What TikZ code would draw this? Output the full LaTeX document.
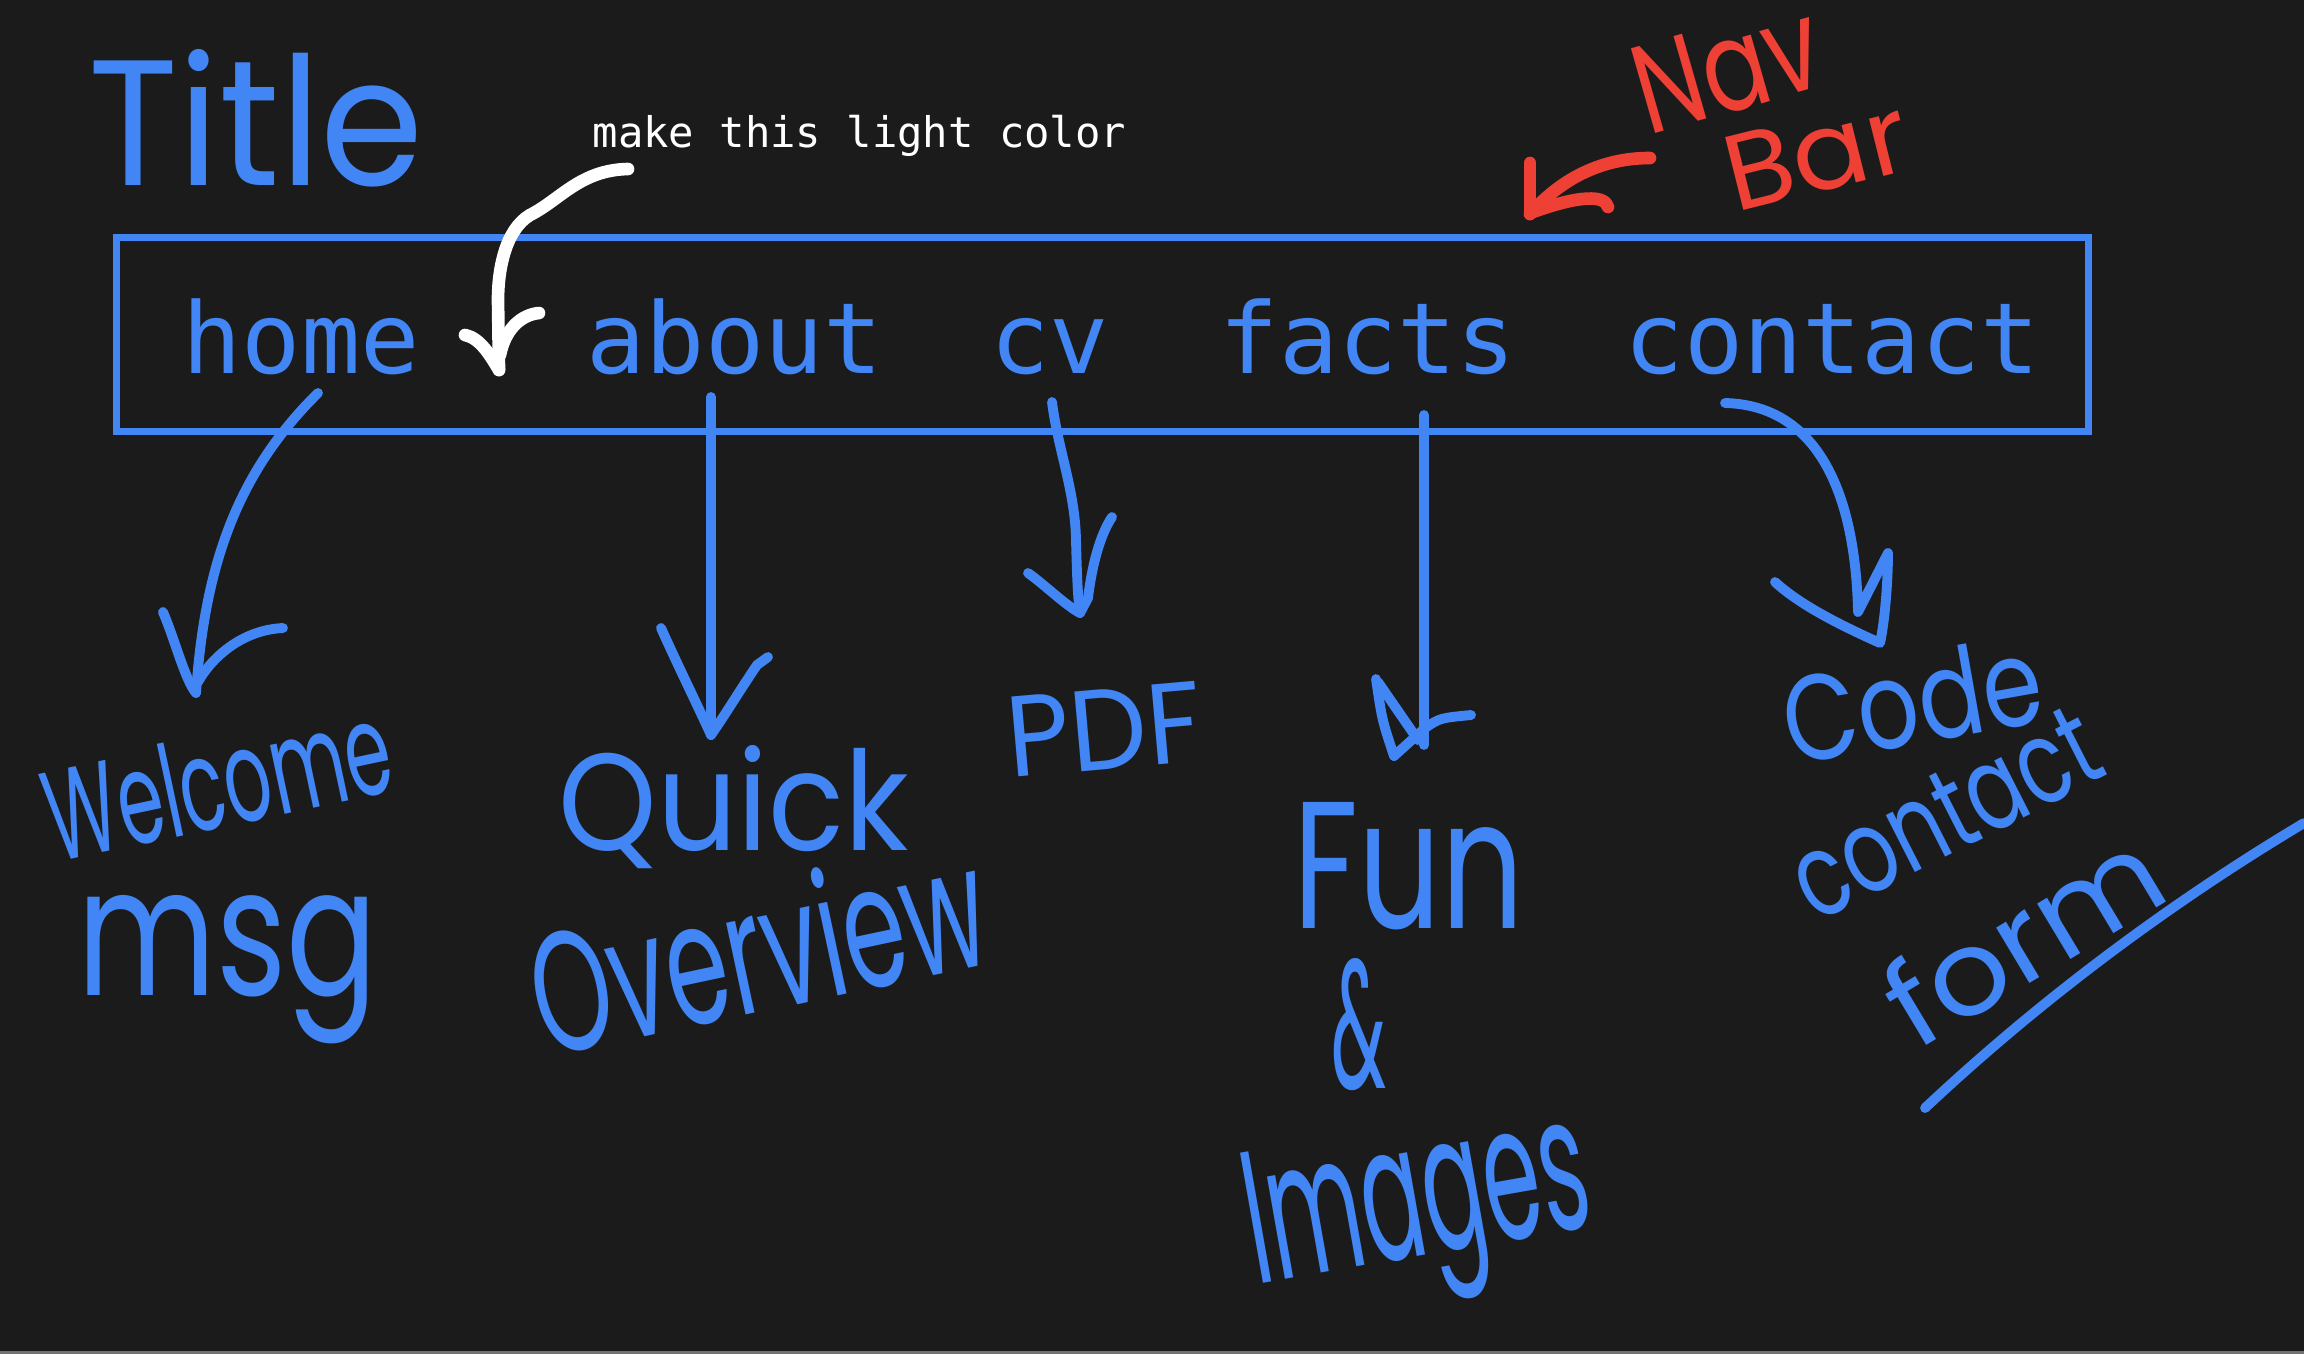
\documentclass[tikz,border=0pt]{standalone}
\usepackage{fontspec}
\usepackage{graphicx}
\newfontfamily\monof{DejaVu Sans Mono}
\newfontfamily\handf{Poppins}
\definecolor{bg}{HTML}{1B1B1B}
\definecolor{hblue}{HTML}{4285F4}
\definecolor{hred}{HTML}{EE4035}
\begin{document}
\begin{tikzpicture}[x=0.01cm,y=-0.01cm,
  navtxt/.style={text=hblue, inner sep=0, anchor=base west, font=\monof\fontsize{28pt}{30pt}\selectfont},
  hand/.style={text=hblue, inner sep=0, anchor=base west, font=\handf},
  redhand/.style={text=hred, inner sep=0, anchor=base west, font=\handf},
  bpen/.style={draw=hblue, line width=2.8pt, line cap=round, line join=round},
  wpen/.style={draw=white, line width=3.6pt, line cap=round, line join=round},
  rpen/.style={draw=hred, line width=3.6pt, line cap=round, line join=round}]
\useasboundingbox (0,0) rectangle (2304,1354);
\fill[bg] (0,0) rectangle (2304,1354);
\fill[black!55] (0,1351) rectangle (2304,1354);

% nav box
\node[draw=hblue, line width=2pt, minimum width=19.71cm, minimum height=1.93cm, inner sep=0] (navbar) at (1102.5,334.5) {};

% nav items
\node[navtxt] (home) at (182,373) {home};
\node[navtxt] (about) at (586,373) {about};
\node[navtxt] (cv) at (990,373) {cv};
\node[navtxt] (facts) at (1219,373) {facts};
\node[navtxt] (contact) at (1624,373) {contact};

% note
\node[text=white, inner sep=0, anchor=base west, font=\monof\fontsize{12pt}{14pt}\selectfont] (note) at (592,147) {make this light color};

% title
\node[hand] (title) at (88,185) {\resizebox{3.35cm}{1.36cm}{Title}};

% red Nav Bar
\node[redhand, rotate=16] (nav) at (1648,136) {\resizebox{1.88cm}{0.88cm}{Nav}};
\node[redhand, rotate=14] (bar) at (1735,213) {\resizebox{1.85cm}{0.75cm}{Bar}};

% handwritten labels
\node[hand, rotate=12] (welcome) at (55,863) {\resizebox{3.5cm}{0.95cm}{Welcome}};
\node[hand] (msg) at (77,995) {\resizebox{3.0cm}{1.0cm}{msg}};
\node[hand] (quick) at (558,850) {\resizebox{3.5cm}{1.05cm}{Quick}};
\node[hand, rotate=12] (overview) at (545,1058) {\resizebox{4.6cm}{1.3cm}{Overview}};
\node[hand, rotate=5] (pdf) at (1010,778) {\resizebox{1.95cm}{0.8cm}{PDF}};
\node[hand] (fun) at (1293,928) {\resizebox{2.3cm}{1.26cm}{Fun}};
\node[hand, anchor=center] (amp) at (1359,1025) {\resizebox{0.55cm}{1.3cm}{\&}};
\node[hand, rotate=10] (images) at (1256,1285) {\resizebox{3.45cm}{1.32cm}{Images}};
\node[hand, rotate=10] (code) at (1791,766) {\resizebox{2.6cm}{0.9cm}{Code}};
\node[hand, rotate=27] (contactlbl) at (1815,924) {\resizebox{3.3cm}{0.8cm}{contact}};
\node[hand, rotate=31] (form) at (1916,1052) {\resizebox{3.0cm}{0.9cm}{form}};

% connector coordinates
\coordinate (homeS) at (318,393);  \coordinate (homeT) at (196,693);
\coordinate (aboutS) at (711,397); \coordinate (aboutT) at (711,735);
\coordinate (cvS) at (1052,402);   \coordinate (cvT) at (1080,613);
\coordinate (factsS) at (1424,415);\coordinate (factsT) at (1424,745);
\coordinate (contS) at (1725,403); \coordinate (contT) at (1858,612);
\coordinate (noteS) at (628,169);  \coordinate (noteT) at (499,370);
\coordinate (navS) at (1650,158);  \coordinate (navT) at (1530,214);
\coordinate (ulS) at (1925,1108);  \coordinate (ulE) at (2304,823);

% home -> welcome
\draw[bpen] (homeS) .. controls (240,470) and (205,560) .. (homeT);
\draw[bpen] (163,612) .. controls (175,640) and (185,680) .. (homeT);
\draw[bpen] (283,628) .. controls (240,630) and (210,660) .. (198,682);

% about -> quick
\draw[bpen] (aboutS) -- (aboutT);
\draw[bpen] (661,628) .. controls (680,670) and (695,700) .. (aboutT);
\draw[bpen] (768,657) -- (757,665) .. controls (740,690) and (725,715) .. (aboutT);

% cv -> pdf
\draw[bpen] (cvS) .. controls (1058,450) and (1075,490) .. (1076,540) .. controls (1077,580) and (1078,600) .. (cvT);
\draw[bpen] (1028,573) .. controls (1045,585) and (1065,605) .. (cvT);
\draw[bpen] (1112,517) .. controls (1100,535) and (1092,565) .. (1088,598) -- (cvT);

% facts -> fun
\draw[bpen] (factsS) -- (factsT);
\draw[bpen] (1376,679) .. controls (1382,720) .. (1394,756) -- (1425,728) .. controls (1440,718) .. (1471,715);
\draw[bpen] (1378,682) -- (1418,740);

% contact -> code
\draw[bpen] (contS) .. controls (1810,405) and (1855,480) .. (contT) -- (1888,553) .. controls (1888,580) and (1885,620) .. (1880,643) .. controls (1840,625) and (1800,605) .. (1775,582);

% underline of contact form
\draw[bpen] (ulS) .. controls (2040,1000) and (2170,903) .. (ulE);

% white note arrow
\draw[wpen] (noteS) .. controls (580,170) and (560,200) .. (530,215) .. controls (505,230) and (498,270) .. (498,300) -- (noteT);
\draw[wpen] (465,335) .. controls (480,338) and (490,355) .. (noteT);
\draw[wpen] (539,313) .. controls (520,315) and (505,330) .. (500,355);

% red arrow
\draw[rpen] (navS) .. controls (1600,158) and (1560,180) .. (navT);
\draw[rpen] (1530,163) -- (navT);
\draw[rpen] (1608,207) .. controls (1605,195) and (1580,195) .. (1533,212);
\end{tikzpicture}
\end{document}
